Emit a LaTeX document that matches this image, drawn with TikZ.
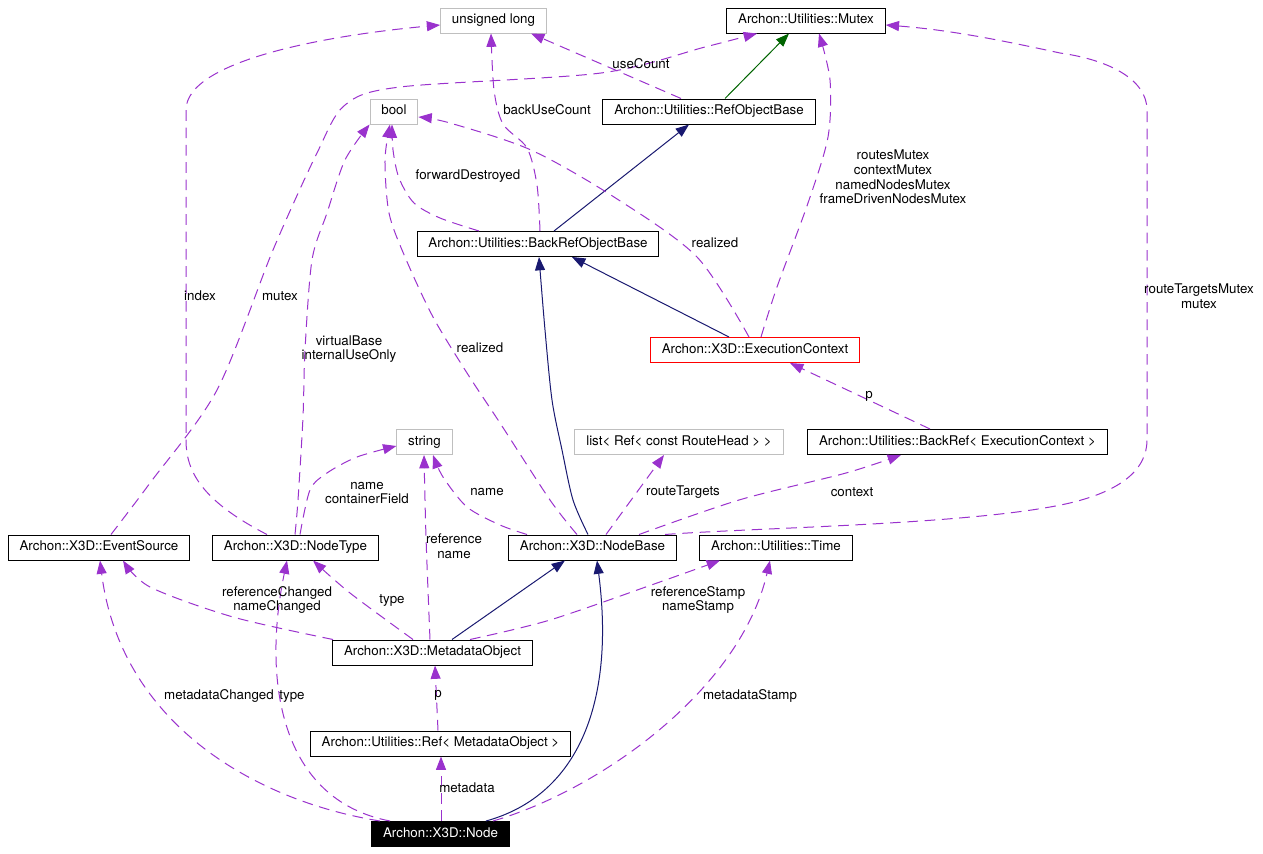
\documentclass[tikz,border=0pt]{standalone}
\usepackage{fontspec}
\setmainfont{TeX Gyre Heros}
\usetikzlibrary{arrows.meta}
\definecolor{usecol}{HTML}{9A32CD}
\definecolor{basecol}{HTML}{191970}
\definecolor{protcol}{HTML}{006400}
\definecolor{extcol}{HTML}{BFBFBF}
\tikzset{>={Triangle[length = 10pt, width = 7.5pt]}}
\tikzstyle{klass} = [rectangle, text centered, draw = black, line width = 0.75pt, minimum height = 18.75pt, inner xsep = 8.5pt, inner ysep = 0pt, text height = 7.2pt, text depth = 2pt]
\tikzstyle{extklass} = [klass, draw = extcol]
\tikzstyle{focus} = [klass, fill = black, text = white]
\tikzstyle{uses} = [->, draw = usecol, line width = 0.75pt, dash pattern = on 8pt off 5pt]
\tikzstyle{inherits} = [->, draw = basecol, line width = 0.75pt]
\tikzstyle{prot} = [->, draw = protcol, line width = 0.75pt]
\tikzstyle{role} = [align = center, inner sep = 0pt]

\begin{document}
\begin{tikzpicture}[x = 0.75pt, y = -0.75pt, font = \fontsize{10}{11}\selectfont]
    \useasboundingbox (0,0) rectangle (1263,853);
    % classes
    \node (ulong) [extklass] at (493.5,20.5) {unsigned long};
    \node (mutex) [klass] at (806,20.5) {Archon::Utilities::Mutex};
    \node (bool) [extklass] at (394,111.5) {bool};
    \node (refobj) [klass] at (709,111.5) {Archon::Utilities::RefObjectBase};
    \node (backref) [klass] at (538,244) {Archon::Utilities::BackRefObjectBase};
    \node (exec) [klass, draw = red] at (755,350) {Archon::X3D::ExecutionContext};
    \node (string) [extklass] at (424.5,442) {string};
    \node (list) [extklass] at (679,442) {list< Ref< const RouteHead > >};
    \node (backrefec) [klass] at (957.5,442) {Archon::Utilities::BackRef< ExecutionContext >};
    \node (evsrc) [klass] at (99,547.5) {Archon::X3D::EventSource};
    \node (nodetype) [klass] at (295.5,547.5) {Archon::X3D::NodeType};
    \node (nodebase) [klass] at (592.5,547.5) {Archon::X3D::NodeBase};
    \node (time) [klass] at (776,547.5) {Archon::Utilities::Time};
    \node (meta) [klass] at (432.5,652.5) {Archon::X3D::MetadataObject};
    \node (refmeta) [klass] at (440.5,743.5) {Archon::Utilities::Ref< MetadataObject >};
    \node (x3dnode) [focus] at (440.5,834) {Archon::X3D::Node};

    % base classes
    \draw [prot] (725,0 |- refobj.north) -- (789,0 |- mutex.south);
    \draw [inherits] (554,0 |- backref.north) -- (689,0 |- refobj.south);
    \draw [inherits] (729,0 |- exec.north) -- (572,0 |- backref.south);
    \draw [inherits] plot [smooth] coordinates {(588,0 |- nodebase.north) (573,500) (562,450) (552,400) (545,330) (539,0 |- backref.south)};
    \draw [inherits] (452,0 |- meta.north) -- (565,0 |- nodebase.south);
    \draw [inherits] (486,0 |- x3dnode.north) .. controls (580,795) and (615,700) .. (597,0 |- nodebase.south);

    % members
    \draw [uses] (681,0 |- refobj.north) -- (531,0 |- ulong.south);
    \draw [uses] plot [smooth] coordinates {(540,0 |- backref.north) (537,185) (527,148) (503,124) (494,90) (491,0 |- ulong.south)};
    \draw [uses] plot [smooth] coordinates {(479,0 |- backref.north) (440,218) (414,203) (399,178) (393,150) (392,0 |- bool.south)};
    \draw [uses] plot [smooth] coordinates {(577,0 |- nodebase.north) (550,500) (500,423) (467,373) (433,317) (405,257) (389,213) (385,160) (390,0 |- bool.south)};
    \draw [uses] plot [smooth] coordinates {(749,0 |- exec.north) (697,257) (614,197) (531,150) (450,123) (bool.east |- 0,117)};
    \draw [uses] plot [smooth] coordinates {(761,0 |- exec.north) (777,287) (808,203) (828,137) (830,80) (819,0 |- mutex.south)};
    \draw [uses] plot [smooth] coordinates {(111,0 |- evsrc.north) (150,483) (217,390) (273,250) (317,153) (345,105) (400,87) (601,73) (705,47) (757,0 |- mutex.south)};
    \draw [uses] (267,0 |- nodetype.north) .. controls (200,500) and (186,470) .. (186,440) -- (186,110) .. controls (186,60) and (330,35) .. (ulong.west |- 0,25);
    \draw [uses] plot [smooth] coordinates {(295,0 |- nodetype.north) (298,500) (303,417) (305,350) (312,260) (327,213) (345,160) (bool.south west)};
    \draw [uses] plot [smooth] coordinates {(300,0 |- nodetype.north) (310,490) (327,473) (357,457) (string.west |- 0,446)};
    \draw [uses] plot [smooth] coordinates {(430,0 |- meta.north) (426,537) (424,0 |- string.south)};
    \draw [uses] plot [smooth] coordinates {(527,0 |- nodebase.north) (500,525) (467,507) (443,477) (433,0 |- string.south)};
    \draw [uses] (606,0 |- nodebase.north) -- (664,0 |- list.south);
    \draw [uses] plot [smooth] coordinates {(639,0 |- nodebase.north) (739,500) (846,473) (901,0 |- backrefec.south)};
    \draw [uses] (665,0 |- nodebase.north) .. controls (750,528) and (950,525) .. (1050,507) .. controls (1120,495) and (1147,470) .. (1147,440) -- (1147,110) .. controls (1147,80) and (1110,60) .. (1060,53) .. controls (1000,40) and (950,30) .. (mutex.east |- 0,25);
    \draw [uses] (930,0 |- backrefec.north) -- (790,0 |- exec.south);
    \draw [uses] plot [smooth] coordinates {(333,0 |- meta.north) (233,617) (150,587) (123,0 |- evsrc.south)};
    \draw [uses] plot [smooth] coordinates {(413,0 |- meta.north) (350,593) (313,0 |- nodetype.south)};
    \draw [uses] plot [smooth] coordinates {(470,0 |- meta.north) (550,620) (657,583) (720,0 |- time.south)};
    \draw [uses] (438,0 |- refmeta.north) -- (435,0 |- meta.south);
    \draw [uses] (441,0 |- x3dnode.north) -- (441,0 |- refmeta.south);
    \draw [uses] (380,0 |- x3dnode.north) .. controls (250,800) and (120,720) .. (100,0 |- evsrc.south);
    \draw [uses] (390,0 |- x3dnode.north) .. controls (280,800) and (262,680) .. (287,0 |- nodetype.south);
    \draw [uses] (493,0 |- x3dnode.north) .. controls (600,790) and (740,690) .. (770,0 |- time.south);

    % member names
    \node (lUse) [role] at (641,64) {useCount};
    \node (lBackUse) [role] at (547,110) {backUseCount};
    \node (lFwd) [role] at (468,176) {forwardDestroyed};
    \node (lRoutes) [role] at (893,177) {routesMutex\\contextMutex\\namedNodesMutex\\frameDrivenNodesMutex};
    \node (lRealA) [role] at (715,243) {realized};
    \node (lRealB) [role] at (480,348) {realized};
    \node (lIndex) [role] at (200,296) {index};
    \node (lMutex) [role] at (280,296) {mutex};
    \node (lVirt) [role] at (349,349) {virtualBase\\internalUseOnly};
    \node (lRtMutex) [role] at (1199,296) {routeTargetsMutex\\mutex};
    \node (lPexec) [role] at (869,396) {p};
    \node (lNameCf) [role] at (367,493) {name\\containerField};
    \node (lName) [role] at (487,492) {name};
    \node (lRt) [role] at (683,492) {routeTargets};
    \node (lCtx) [role] at (852,492) {context};
    \node (lRefName) [role] at (454,546) {reference\\name};
    \node (lRefCh) [role] at (277,600) {referenceChanged\\nameChanged};
    \node (lTypeA) [role] at (392,600) {type};
    \node (lStamp) [role] at (698,600) {referenceStamp\\nameStamp};
    \node (lPmeta) [role] at (438,695) {p};
    \node (lMetaCh) [role] at (219,696) {metadataChanged};
    \node (lTypeB) [role] at (292,696) {type};
    \node (lMetaSt) [role] at (750,696) {metadataStamp};
    \node (lMeta) [role] at (467,788) {metadata};
\end{tikzpicture}
\end{document}
